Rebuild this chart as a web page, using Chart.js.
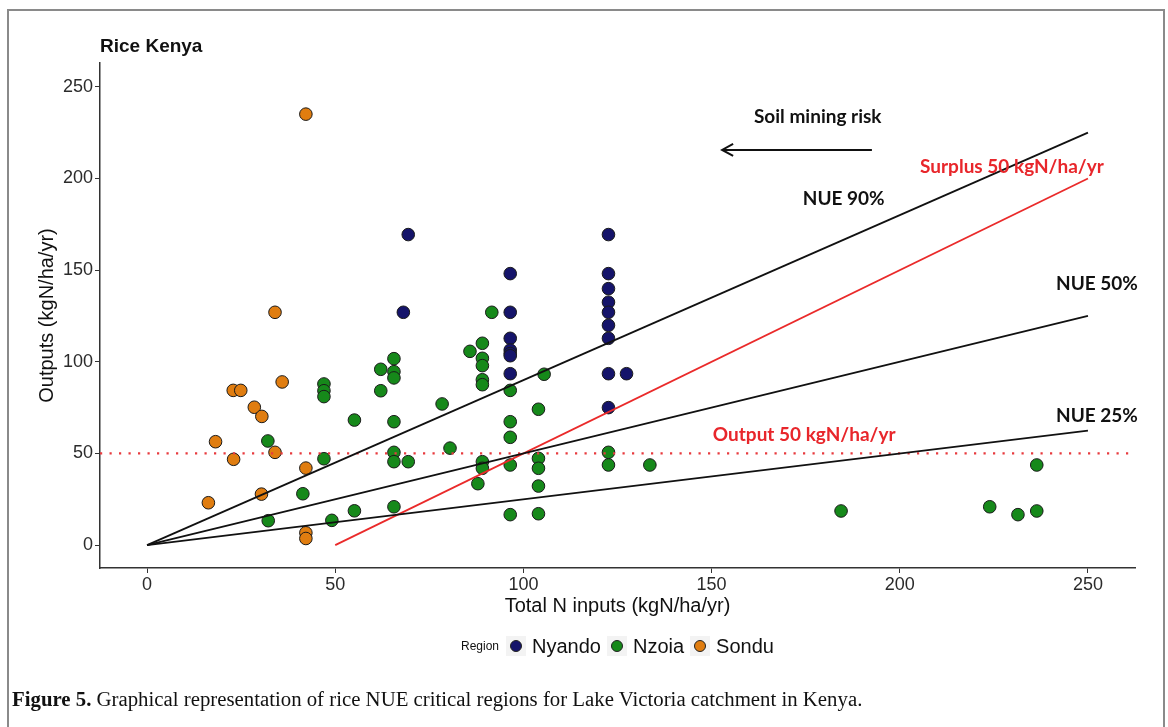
<!DOCTYPE html>
<html>
<head>
<meta charset="utf-8">
<script src="https://cdn.jsdelivr.net/npm/chart.js@4.4.1/dist/chart.umd.min.js"></script>
<style>
  html, body { margin: 0; padding: 0; background: #fff; }
  body { width: 1168px; height: 727px; position: relative; overflow: hidden; }
  #frame { position: absolute; left: 7px; top: 9px; width: 1158px; height: 740px; border: 2px solid #8a8a8a; box-sizing: border-box; }
  #chart { position: absolute; left: 0; top: 0; }
  #title { position: absolute; left: 100px; top: 35px; font: bold 19px "Liberation Sans", Arial, sans-serif; color: #111; }
  #legend { position: absolute; left: 461px; top: 633px; height: 26px; display: flex; align-items: center; font-family: "Liberation Sans", Arial, sans-serif; color: #111; }
  #legend .lab { font-size: 12px; margin-right: 7px; }
  #legend .key { width: 20px; height: 20px; background: #f3f3f3; display: flex; align-items: center; justify-content: center; margin-right: 6px; }
  #legend .dot { width: 12px; height: 12px; border-radius: 50%; border: 1px solid #222; box-sizing: border-box; }
  #legend .txt { font-size: 20px; margin-right: 6px; }
  #caption { position: absolute; left: 12px; top: 687px; font: 20.8px "Liberation Serif", "Times New Roman", serif; color: #111; white-space: nowrap; }
</style>
</head>
<body>
<div id="frame"></div>
<canvas id="chart" width="1168" height="727"></canvas>
<div id="title">Rice Kenya</div>
<div id="legend"></div>
<div id="caption"><b>Figure 5.</b> Graphical representation of rice NUE critical regions for Lake Victoria catchment in Kenya.</div>
<script>
// ---------- data ----------
const regions = ["Nyando", "Nzoia", "Sondu"];
const regionColors = ["#15146a", "#16891a", "#e07d10"];

const nyandoX = [69.4, 68.1, 96.5, 96.5, 96.5, 96.5, 96.5, 96.5, 96.5, 122.6, 122.6, 122.6, 122.6, 122.6, 122.6, 122.6, 122.6, 122.6, 127.4];
const nyandoY = [169.4, 127.0, 148.1, 127.0, 112.8, 106.4, 104.5, 103.3, 93.5, 169.4, 148.1, 139.9, 132.5, 127.0, 119.9, 112.8, 93.5, 75.0, 93.5];

const nzoiaX = [47.0, 47.0, 47.0, 55.1, 32.1, 47.0, 41.4, 32.2, 49.1, 55.1,
                91.6, 89.1, 85.8, 89.1, 89.1, 89.1, 89.1,
                65.6, 62.1, 65.6, 65.6, 62.1,
                105.5, 96.5, 78.4, 104.0, 65.6, 96.5, 96.5, 80.5,
                65.6, 65.6, 69.4, 89.1, 89.1, 87.9, 96.5, 104.0, 104.0, 104.0, 96.5, 104.0, 65.6,
                122.6, 122.6, 133.6,
                236.4, 184.4, 223.9, 231.4, 236.4];
const nzoiaY = [87.9, 84.2, 81.0, 68.2, 56.8, 47.1, 28.0, 13.3, 13.5, 18.7,
                127.0, 110.1, 105.7, 101.9, 97.9, 90.2, 87.5,
                101.7, 95.9, 94.6, 91.2, 84.2,
                93.2, 84.4, 77.0, 74.1, 67.3, 67.3, 58.8, 52.9,
                50.6, 45.5, 45.5, 45.5, 41.9, 33.5, 43.7, 47.3, 41.9, 32.2, 16.6, 17.1, 20.9,
                50.6, 43.7, 43.7,
                43.7, 18.6, 20.9, 16.6, 18.6];

const sonduX = [42.2, 34.0, 35.9, 22.9, 24.9, 28.5, 30.5, 18.2, 34.0, 23.0, 42.2, 30.4, 16.3, 42.2, 42.2];
const sonduY = [235.1, 127.0, 89.0, 84.4, 84.4, 75.2, 70.2, 56.4, 50.6, 46.8, 42.0, 27.8, 23.1, 6.7, 3.6];

// reference lines
const nueX = [0, 250];
const nue90Y = [0, 225];
const nue50Y = [0, 125];
const nue25Y = [0, 62.5];
const surplusX = [50, 250];
const surplusY = [0, 200];
const outputLevel = 50;

// axes
const xTicks = [0, 50, 100, 150, 200, 250];
const yTicks = [0, 50, 100, 150, 200, 250];
const xRange = [-12.5, 262.5];
const yRange = [-12.5, 263];

// text annotations (data coordinates)
const annotations = [
  { text: "Soil mining risk", x: 178.2, y: 233.8, color: "#111" },
  { text: "NUE 90%", x: 185.1, y: 188.8, color: "#111" },
  { text: "Surplus 50 kgN/ha/yr", x: 229.8, y: 206.3, color: "#e8262b" },
  { text: "NUE 50%", x: 252.4, y: 142.4, color: "#111" },
  { text: "NUE 25%", x: 252.4, y: 70.6, color: "#111" },
  { text: "Output 50 kgN/ha/yr", x: 174.6, y: 60.0, color: "#e8262b" }
];
const arrowFrom = [192.6, 215.6];
const arrowTo = [152.8, 215.6];

// ---------- build ----------
const pts = (xs, ys) => xs.map((x, i) => ({ x: x, y: ys[i] }));
const seriesX = [nyandoX, nzoiaX, sonduX];
const seriesY = [nyandoY, nzoiaY, sonduY];

const datasets = [];
regions.forEach((r, i) => {
  datasets.push({
    label: r, data: pts(seriesX[i], seriesY[i]), order: 3,
    backgroundColor: regionColors[i], borderColor: "#1a1a1a", borderWidth: 1,
    pointRadius: 6.3, pointHoverRadius: 6.3
  });
});
const lineDs = (xs, ys, color, extra) => Object.assign({
  data: pts(xs, ys), showLine: true, pointRadius: 0, borderColor: color,
  borderWidth: 1.8, fill: false, order: 1
}, extra || {});
datasets.push(lineDs(nueX, nue90Y, "#111"));
datasets.push(lineDs(nueX, nue50Y, "#111"));
datasets.push(lineDs(nueX, nue25Y, "#111"));
datasets.push(lineDs(surplusX, surplusY, "#ea2a2a"));
datasets.push(lineDs(xRange, [outputLevel, outputLevel], "#e83a3e", { borderDash: [2.2, 7.3], borderWidth: 2.3, order: 2 }));

const annotPlugin = {
  id: "annot",
  afterDatasetsDraw(chart) {
    const { ctx, scales: { x, y } } = chart;
    ctx.save();
    ctx.font = 'bold 19px Lato, "Open Sans", sans-serif';
    ctx.textAlign = "center";
    ctx.textBaseline = "middle";
    annotations.forEach(a => {
      ctx.fillStyle = a.color;
      ctx.fillText(a.text, x.getPixelForValue(a.x), y.getPixelForValue(a.y));
    });
    const x1 = x.getPixelForValue(arrowFrom[0]), y1 = y.getPixelForValue(arrowFrom[1]);
    const x2 = x.getPixelForValue(arrowTo[0]), y2 = y.getPixelForValue(arrowTo[1]);
    ctx.strokeStyle = "#111";
    ctx.lineWidth = 2;
    ctx.beginPath();
    ctx.moveTo(x1, y1); ctx.lineTo(x2, y2);
    ctx.moveTo(x2 + 11, y2 - 6); ctx.lineTo(x2, y2); ctx.lineTo(x2 + 11, y2 + 6);
    ctx.stroke();
    ctx.restore();
  }
};

const tickFont = { family: '"Liberation Sans", Arial, sans-serif', size: 18 };
const titleFont = { family: '"Liberation Sans", Arial, sans-serif', size: 20 };

new Chart(document.getElementById("chart"), {
  type: "scatter",
  data: { datasets: datasets },
  options: {
    responsive: false, animation: false, devicePixelRatio: 1,
    layout: { padding: { left: 0, top: 63, right: 33, bottom: 109 } },
    plugins: { legend: { display: false }, tooltip: { enabled: false } },
    scales: {
      x: {
        type: "linear", min: xRange[0], max: xRange[1],
        afterBuildTicks: s => { s.ticks = xTicks.map(v => ({ value: v })); },
        afterFit: s => { s.height = 50; },
        grid: { display: true, drawOnChartArea: false, drawTicks: true, tickLength: 5, color: "#333", lineWidth: 1 },
        border: { display: true, color: "#333", width: 1.5 },
        ticks: { color: "#2b2b2b", font: tickFont, padding: 1, maxRotation: 0 },
        title: { display: true, text: "Total N inputs (kgN/ha/yr)", color: "#111", font: titleFont, padding: { top: 0, bottom: 0 } }
      },
      y: {
        type: "linear", min: yRange[0], max: yRange[1],
        afterBuildTicks: s => { s.ticks = yTicks.map(v => ({ value: v })); },
        afterFit: s => { s.width = 100; },
        grid: { display: true, drawOnChartArea: false, drawTicks: true, tickLength: 5, color: "#333", lineWidth: 1 },
        border: { display: true, color: "#333", width: 1.5 },
        ticks: { color: "#2b2b2b", font: tickFont, padding: 2 },
        title: { display: true, text: "Outputs (kgN/ha/yr)", color: "#111", font: titleFont, padding: { top: 35, bottom: 0 } }
      }
    }
  },
  plugins: [annotPlugin]
});

// legend (HTML)
const lg = document.getElementById("legend");
let html = '<span class="lab">Region</span>';
regions.forEach((r, i) => {
  html += '<span class="key"><span class="dot" style="background:' + regionColors[i] + '"></span></span><span class="txt">' + r + '</span>';
});
lg.innerHTML = html;
</script>
</body>
</html>
